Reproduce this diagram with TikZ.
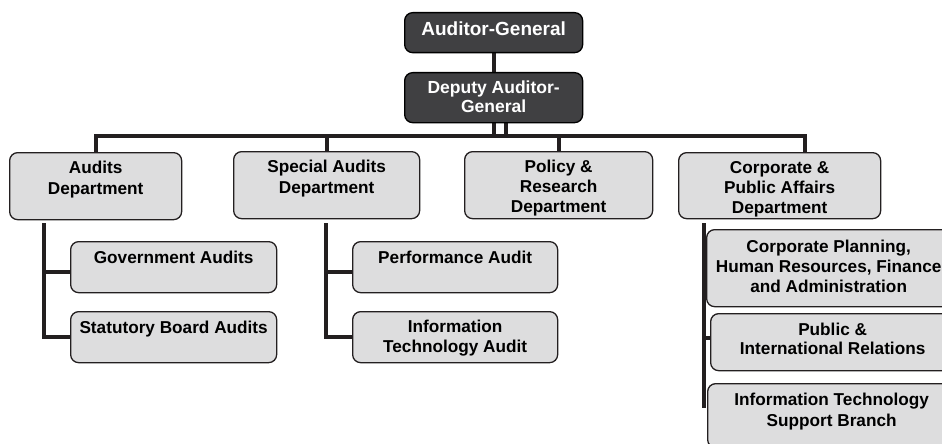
\documentclass[tikz,border=0pt]{standalone}
\usepackage{fontspec}
\setmainfont{Liberation Sans}
\usetikzlibrary{backgrounds}
\definecolor{lightbox}{HTML}{DDDDDE}
\definecolor{darkbox}{HTML}{404042}
\definecolor{linec}{HTML}{231F20}
\newcommand\bx[6]{\parbox[c][#2][t]{#1}{\centering\fontsize{#3}{#4}\selectfont\bfseries\rule{0pt}{#5}#6}}
\tikzset{
  lbox/.style={draw=linec, fill=lightbox, line width=1.3pt, rounded corners=8pt, inner sep=0pt, anchor=north west},
  dbox/.style={lbox, fill=darkbox, draw=black, text=white},
  conn/.style={draw=linec, line width=4pt}
}
\begin{document}
\begin{tikzpicture}[x=1pt,y=-1pt]
\useasboundingbox (0,0) rectangle (942,444);
\clip (0,0) rectangle (942,444);
% top
\node[dbox] (ag) at (404,12) {\bx{178pt}{40pt}{19}{22pt}{23pt}{Auditor-General}};
\node[dbox] (dep) at (404,72) {\bx{178pt}{50pt}{17.5}{19pt}{21pt}{Deputy Auditor-\\General}};
% departments
\node[lbox] (aud) at (9,152) {\bx{172pt}{67pt}{17.2}{21pt}{21pt}{Audits\\Department}};
\node[lbox] (spc) at (233,151) {\bx{186pt}{67pt}{17.2}{21pt}{21pt}{Special Audits\\Department}};
\node[lbox] (pol) at (464,151) {\bx{188pt}{67pt}{17.2}{20pt}{21pt}{Policy \&\\Research\\Department}};
\node[lbox] (cor) at (678,152) {\bx{202pt}{66pt}{17.2}{20pt}{21pt}{Corporate \&\\Public Affairs\\Department}};
% sub units
\node[lbox] (gov) at (70,241) {\bx{206pt}{51pt}{17.2}{20pt}{22pt}{Government Audits}};
\node[lbox] (sta) at (70,311) {\bx{206pt}{51pt}{17.2}{20pt}{22pt}{Statutory Board Audits}};
\node[lbox] (prf) at (352,241) {\bx{205pt}{51pt}{17.2}{20pt}{22pt}{Performance Audit}};
\node[lbox] (ita) at (352,311) {\bx{205pt}{51pt}{17.2}{20pt}{21pt}{Information\\Technology Audit}};
\node[lbox] (cpl) at (706,229) {\bx{244pt}{77pt}{17.2}{20pt}{23pt}{Corporate Planning,\\Human Resources, Finance\\and Administration}};
\node[lbox] (pub) at (710,313) {\bx{244pt}{57pt}{17.2}{19pt}{22pt}{Public \&\\International Relations}};
\node[lbox] (its) at (707,383) {\bx{248pt}{64pt}{17.2}{21pt}{22pt}{Information Technology\\Support Branch}};
% connectors
\coordinate (busR) at (805,136);
\coordinate (aj) at (44,223);
\coordinate (mj) at (326,223);
\coordinate (rj) at (704,223);
\coordinate (rend) at (704,408);
\coordinate (govin) at ([yshift=-4.5pt]gov.west);
\coordinate (prfin) at ([yshift=-4.5pt]prf.west);
\coordinate (pubin) at ([yshift=4.5pt]pub.west);
\begin{scope}[on background layer]
\draw[conn] (ag.south) -- (dep.north);
\draw[conn] (dep.south) -- (dep.south |- busR);
\draw[conn] ([xshift=12pt]dep.south) -- ([xshift=12pt]dep.south |- busR);
\draw[conn] (aud.north) |- (busR) -- (busR |- cor.north);
\draw[conn] (spc.north) -- (spc.north |- busR);
\draw[conn] (pol.north) -- (pol.north |- busR);
\draw[conn] (aj) |- (govin);
\draw[conn] (aj) |- (sta.west);
\draw[conn] (mj) |- (prfin);
\draw[conn] (mj) |- (ita.west);
\draw[conn] (rj) -- (rend);
\draw[conn] (rj |- pubin) -- (pubin);
\end{scope}
\end{tikzpicture}
\end{document}
